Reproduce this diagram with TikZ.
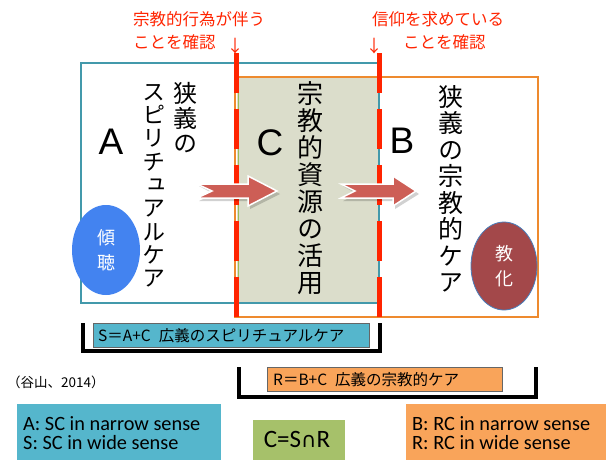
\documentclass[tikz,border=0pt]{standalone}
\usepackage{fontspec}
\setmainfont{Liberation Sans}
\newfontfamily\jp{Noto Sans CJK JP}
\newfontfamily\jpv[RawFeature=+vert]{Noto Sans CJK JP}
\newfontfamily\calfont{Carlito}
\newfontfamily\dvfont{DejaVu Sans}
\usetikzlibrary{shapes.geometric}
\definecolor{tealb}{HTML}{4399AB}
\definecolor{orgb}{HTML}{EE8A2E}
\definecolor{cgray}{HTML}{DBDDCB}
\definecolor{cgreen}{HTML}{9BBB59}
\definecolor{redl}{HTML}{FF2400}
\definecolor{arrowc}{HTML}{CD5E56}
\definecolor{tealf}{HTML}{55B6CC}
\definecolor{orgf}{HTML}{F9A45A}
\definecolor{greenf}{HTML}{A6C16A}
\definecolor{bluee}{HTML}{4383F0}
\definecolor{browne}{HTML}{A3484A}
\definecolor{ellb}{HTML}{4A7EBB}
\tikzset{
  vtext/.style={align=center, inner sep=0pt, anchor=north},
  bigletter/.style={inner sep=0pt, font=\fontsize{37}{37}\selectfont},
  redlab/.style={inner sep=0pt, text=redl, font=\jp\fontsize{16.5}{16.5}\selectfont, anchor=west},
  blockarrow/.style={fill=arrowc, draw=white, line width=1.5pt, line join=miter},
  arrowshadow/.style={fill=black, opacity=0.18},
  redcut/.style={draw=redl, line width=5pt, dash pattern=on 40pt off 16pt},
  bracket/.style={draw=black, line width=4pt, line join=miter},
  labelbox/.style={draw=black!60, line width=0.8pt, inner sep=0pt, anchor=north west},
  labeltext/.style={inner sep=0pt, anchor=west, font=\jp\fontsize{15.5}{15.5}\selectfont},
  keybox/.style={inner sep=0pt, anchor=north west},
  keytext/.style={inner sep=0pt, anchor=base west, font=\calfont\fontsize{20.3}{20.3}\selectfont},
  oval/.style={ellipse, inner sep=0pt, minimum width=68pt, minimum height=90pt, text=white, align=center, font=\jp\fontsize{18}{25}\selectfont}
}
\begin{document}
\begin{tikzpicture}[x=1pt,y=-1pt]
\useasboundingbox (0,0) rectangle (606,459);
\clip (0,0) rectangle (606,459);
\fill[white] (0,0) rectangle (606,459);
% region C
\fill[cgray] (237,77) rectangle (379,303);
\draw[cgreen, line width=1pt] (238.5,77) -- (238.5,303);
% S box and R box
\draw[tealb, line width=2pt] (81,63) rectangle (379,303);
\draw[orgb, line width=2pt] (235,77) rectangle (538,317);
% red cut lines
\draw[redcut] (236,53) -- (236,318);
\draw[redcut] (379.5,53) -- (379.5,318);
% block arrows
\fill[arrowshadow] (199,186) -- (250,186) -- (250,178) -- (280,194) -- (250,209) -- (250,201) -- (199,201) -- (214,194) -- cycle;
\path[blockarrow] (197,184) -- (248,184) -- (248,176) -- (277,191) -- (248,206) -- (248,198) -- (197,198) -- (212,191) -- cycle;
\fill[arrowshadow] (343,186) -- (395,186) -- (395,178) -- (419,194) -- (395,209) -- (395,201) -- (343,201) -- (357,194) -- cycle;
\path[blockarrow] (341,184) -- (393,184) -- (393,176) -- (416,191) -- (393,206) -- (393,198) -- (341,198) -- (355,191) -- cycle;
% big letters
\node[bigletter] (A) at (111,142) {A};
\node[bigletter] (C) at (270,143) {C};
\node[bigletter] (B) at (402,141) {B};
% vertical texts
\node[vtext, font=\jpv\fontsize{24}{25}\selectfont] (narrowS1) at (185,82) {狭\\義\\の};
\node[vtext, font=\jpv\fontsize{23}{23.3}\selectfont] (narrowS2) at (154,84) {ス\\ピ\\リ\\チ\\ュ\\ア\\ル\\ケ\\ア};
\node[vtext, font=\jpv\fontsize{26}{27}\selectfont] (resC) at (310,81) {宗\\教\\的\\資\\源\\の\\活\\用};
\node[vtext, font=\jpv\fontsize{25}{26.5}\selectfont] (narrowR) at (451,85) {狭\\義\\の\\宗\\教\\的\\ケ\\ア};
% ellipses
\node[oval, fill=bluee] (listen) at (106,250) {傾\\聴};
\node[oval, fill=browne, draw=ellb, line width=0.8pt, minimum width=66pt, minimum height=88pt] (teach) at (504,266) {教\\化};
% red labels
\node[redlab] (lab1a) at (133,19) {宗教的行為が伴う};
\node[redlab] (lab1b) at (133,42) {ことを確認};
\node[redlab] (lab2a) at (372,19) {信仰を求めている};
\node[redlab] (lab2b) at (403,42) {ことを確認};
\node[inner sep=0pt, text=redl, font=\jp\fontsize{17}{17}\selectfont] (down1) at (235,46) {↓};
\node[inner sep=0pt, text=redl, font=\jp\fontsize{17}{17}\selectfont] (down2) at (374,46) {↓};
% brackets and labels
\draw[bracket] (83,323) -- (83,351) -- (380,351) -- (380,323);
\node[labelbox, fill=tealf, minimum width=276pt, minimum height=24pt] (Sbox) at (93,323) {};
\node[labeltext] (Stext) at (98,335.5) {S＝A+C\hspace{8pt}広義のスピリチュアルケア};
\draw[bracket] (239,367) -- (239,397) -- (536,397) -- (536,367);
\node[labelbox, fill=orgf, minimum width=235pt, minimum height=24pt] (Rbox) at (267,367) {};
\node[labeltext] (Rtext) at (273,379.5) {R＝B+C\hspace{8pt}広義の宗教的ケア};
\node[inner sep=0pt, anchor=west, font=\jp\fontsize{13.5}{13.5}\selectfont] (cite) at (7,382) {（谷山、2014）};
% key boxes
\node[keybox, fill=tealf, minimum width=204pt, minimum height=70pt] (keyS) at (17,404) {};
\node[keytext] (keyS1) at (23,430) {A: SC in narrow sense};
\node[keytext] (keyS2) at (23,449) {S: SC in wide sense};
\node[keybox, fill=greenf, minimum width=92pt, minimum height=50pt] (keyCbox) at (253,420) {};
\node[inner sep=0pt, anchor=base, font=\calfont\fontsize{25}{25}\selectfont] (keyC) at (297,447) {C=S{\dvfont\fontsize{21}{21}\selectfont ∩}R};
\node[keybox, fill=orgf, minimum width=210pt, minimum height=70pt] (keyR) at (406,404) {};
\node[keytext] (keyR1) at (412,430) {B: RC in narrow sense};
\node[keytext] (keyR2) at (412,449) {R: RC in wide sense};
\end{tikzpicture}
\end{document}
